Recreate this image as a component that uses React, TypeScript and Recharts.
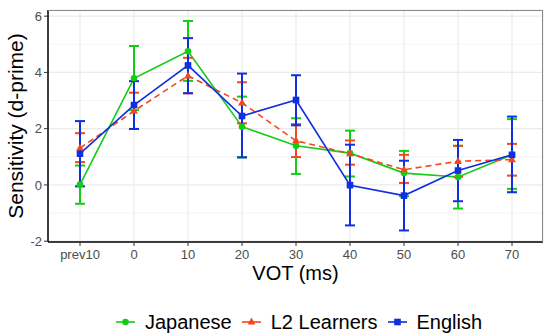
import React from "react";
import {
  CartesianGrid,
  ErrorBar,
  Line,
  LineChart,
  ReferenceLine,
  XAxis,
  YAxis,
} from "recharts";

const categories = ["prev10", "0", "10", "20", "30", "40", "50", "60", "70"];

const japanese = [0.01, 3.79, 4.75, 2.07, 1.39, 1.13, 0.42, 0.28, 1.07];
const japaneseLow = [-0.67, 2.66, 3.7, 0.98, 0.39, 0.3, -0.4, -0.84, -0.14];
const japaneseHigh = [0.69, 4.94, 5.83, 3.14, 2.37, 1.93, 1.21, 1.39, 2.34];

const learners = [1.31, 2.63, 3.88, 2.92, 1.57, 1.11, 0.54, 0.84, 0.9];
const learnersLow = [0.81, 1.99, 3.26, 2.19, 0.99, 0.72, 0.07, 0.29, 0.33];
const learnersHigh = [1.84, 3.28, 4.52, 3.65, 2.16, 1.58, 1.07, 1.39, 1.46];

const english = [1.11, 2.84, 4.25, 2.45, 3.02, -0.01, -0.38, 0.51, 1.07];
const englishLow = [-0.05, 1.99, 3.26, 0.98, 2.12, -1.44, -1.62, -0.58, -0.26];
const englishHigh = [2.27, 3.69, 5.22, 3.96, 3.9, 1.43, 0.86, 1.6, 2.43];

const yTicks = [-2, 0, 2, 4, 6];
const yMinor = [-1, 1, 3, 5];

const GREEN = "#14cc14";
const RED = "#f4471c";
const BLUE = "#1030df";

const data = categories.map((cat, i) => ({
  cat,
  jp: japanese[i],
  jpErr: [japanese[i] - japaneseLow[i], japaneseHigh[i] - japanese[i]],
  l2: learners[i],
  l2Err: [learners[i] - learnersLow[i], learnersHigh[i] - learners[i]],
  en: english[i],
  enErr: [english[i] - englishLow[i], englishHigh[i] - english[i]],
}));

type Shape = "circle" | "triangle" | "square";

function Marker({ cx, cy, shape, color }: { cx: number; cy: number; shape: Shape; color: string }) {
  if (shape === "circle") return <circle cx={cx} cy={cy} r={3.3} fill={color} />;
  if (shape === "square") return <rect x={cx - 3.3} y={cy - 3.3} width={6.6} height={6.6} fill={color} />;
  return <polygon points={`${cx},${cy - 4.4} ${cx - 3.9},${cy + 2.6} ${cx + 3.9},${cy + 2.6}`} fill={color} />;
}

const series = [
  { key: "jp", name: "Japanese", color: GREEN, shape: "circle" as Shape, dash: undefined },
  { key: "l2", name: "L2 Learners", color: RED, shape: "triangle" as Shape, dash: "6 4" },
  { key: "en", name: "English", color: BLUE, shape: "square" as Shape, dash: undefined },
];

const FONT = "'Liberation Sans', Arial, sans-serif";

export default function App() {
  return (
    <div
      style={{
        position: "absolute",
        left: 0,
        top: 0,
        width: 550,
        height: 335,
        background: "#fff",
        fontFamily: FONT,
      }}
    >
      <LineChart
        width={550}
        height={335}
        data={data}
        margin={{ top: 10, right: 7, bottom: 48, left: 0 }}
      >
        <CartesianGrid stroke="#ebebeb" strokeWidth={1.2} />
        {yMinor.map((v) => (
          <ReferenceLine key={v} y={v} stroke="#ebebeb" strokeWidth={0.6} />
        ))}
        <XAxis
          dataKey="cat"
          height={45}
          padding={{ left: 32, right: 31 }}
          tick={{ fill: "#4d4d4d", fontSize: 13, fontFamily: FONT }}
          tickLine={{ stroke: "#333" }}
          tickSize={4}
          tickMargin={4}
          axisLine={{ stroke: "#000", strokeWidth: 1.5 }}
          label={(props: any) => {
            const vb = props.viewBox;
            return (
              <text
                x={vb.x + vb.width / 2}
                y={280}
                textAnchor="middle"
                fontSize={20}
                fontFamily={FONT}
                fill="#000"
              >
                VOT (ms)
              </text>
            );
          }}
        />
        <YAxis
          width={48}
          type="number"
          domain={[-2.03, 6.22]}
          ticks={yTicks}
          allowDataOverflow
          tick={{ fill: "#4d4d4d", fontSize: 13, fontFamily: FONT }}
          tickLine={{ stroke: "#333" }}
          tickSize={4}
          tickMargin={2}
          axisLine={{ stroke: "#000", strokeWidth: 1.5 }}
          label={() => (
            <text
              x={0}
              y={0}
              transform="translate(23,126) rotate(-90)"
              textAnchor="middle"
              fontSize={21}
              fontFamily={FONT}
              fill="#000"
            >
              Sensitivity (d-prime)
            </text>
          )}
        />
        {series.map((s) => (
          <Line
            key={s.key}
            dataKey={s.key}
            name={s.name}
            stroke={s.color}
            strokeWidth={1.6}
            strokeDasharray={s.dash}
            isAnimationActive={false}
            activeDot={false}
            dot={(p: any) => (
              <Marker key={`${s.key}-${p.index}`} cx={p.cx} cy={p.cy} shape={s.shape} color={s.color} />
            )}
          >
            <ErrorBar
              dataKey={`${s.key}Err`}
              direction="y"
              width={5}
              stroke={s.color}
              strokeWidth={2}
              isAnimationActive={false}
            />
          </Line>
        ))}
      </LineChart>
      <div
        style={{
          position: "absolute",
          left: 48,
          top: 10,
          width: 494,
          height: 231,
          borderTop: "1px solid #8a8a8a",
          borderRight: "1px solid #8a8a8a",
          pointerEvents: "none",
        }}
      />
      <div
        style={{
          position: "absolute",
          left: 116,
          top: 309,
          height: 26,
          display: "flex",
          alignItems: "center",
          fontSize: 20,
          color: "#000",
        }}
      >
        {series.map((s) => (
          <div key={s.key} style={{ display: "flex", alignItems: "center", marginRight: 10 }}>
            <svg width={19} height={12} style={{ marginRight: 10 }}>
              <line x1={0} y1={6} x2={19} y2={6} stroke={s.color} strokeWidth={1.6} />
              <Marker cx={9.5} cy={6} shape={s.shape} color={s.color} />
            </svg>
            <span>{s.name}</span>
          </div>
        ))}
      </div>
    </div>
  );
}
